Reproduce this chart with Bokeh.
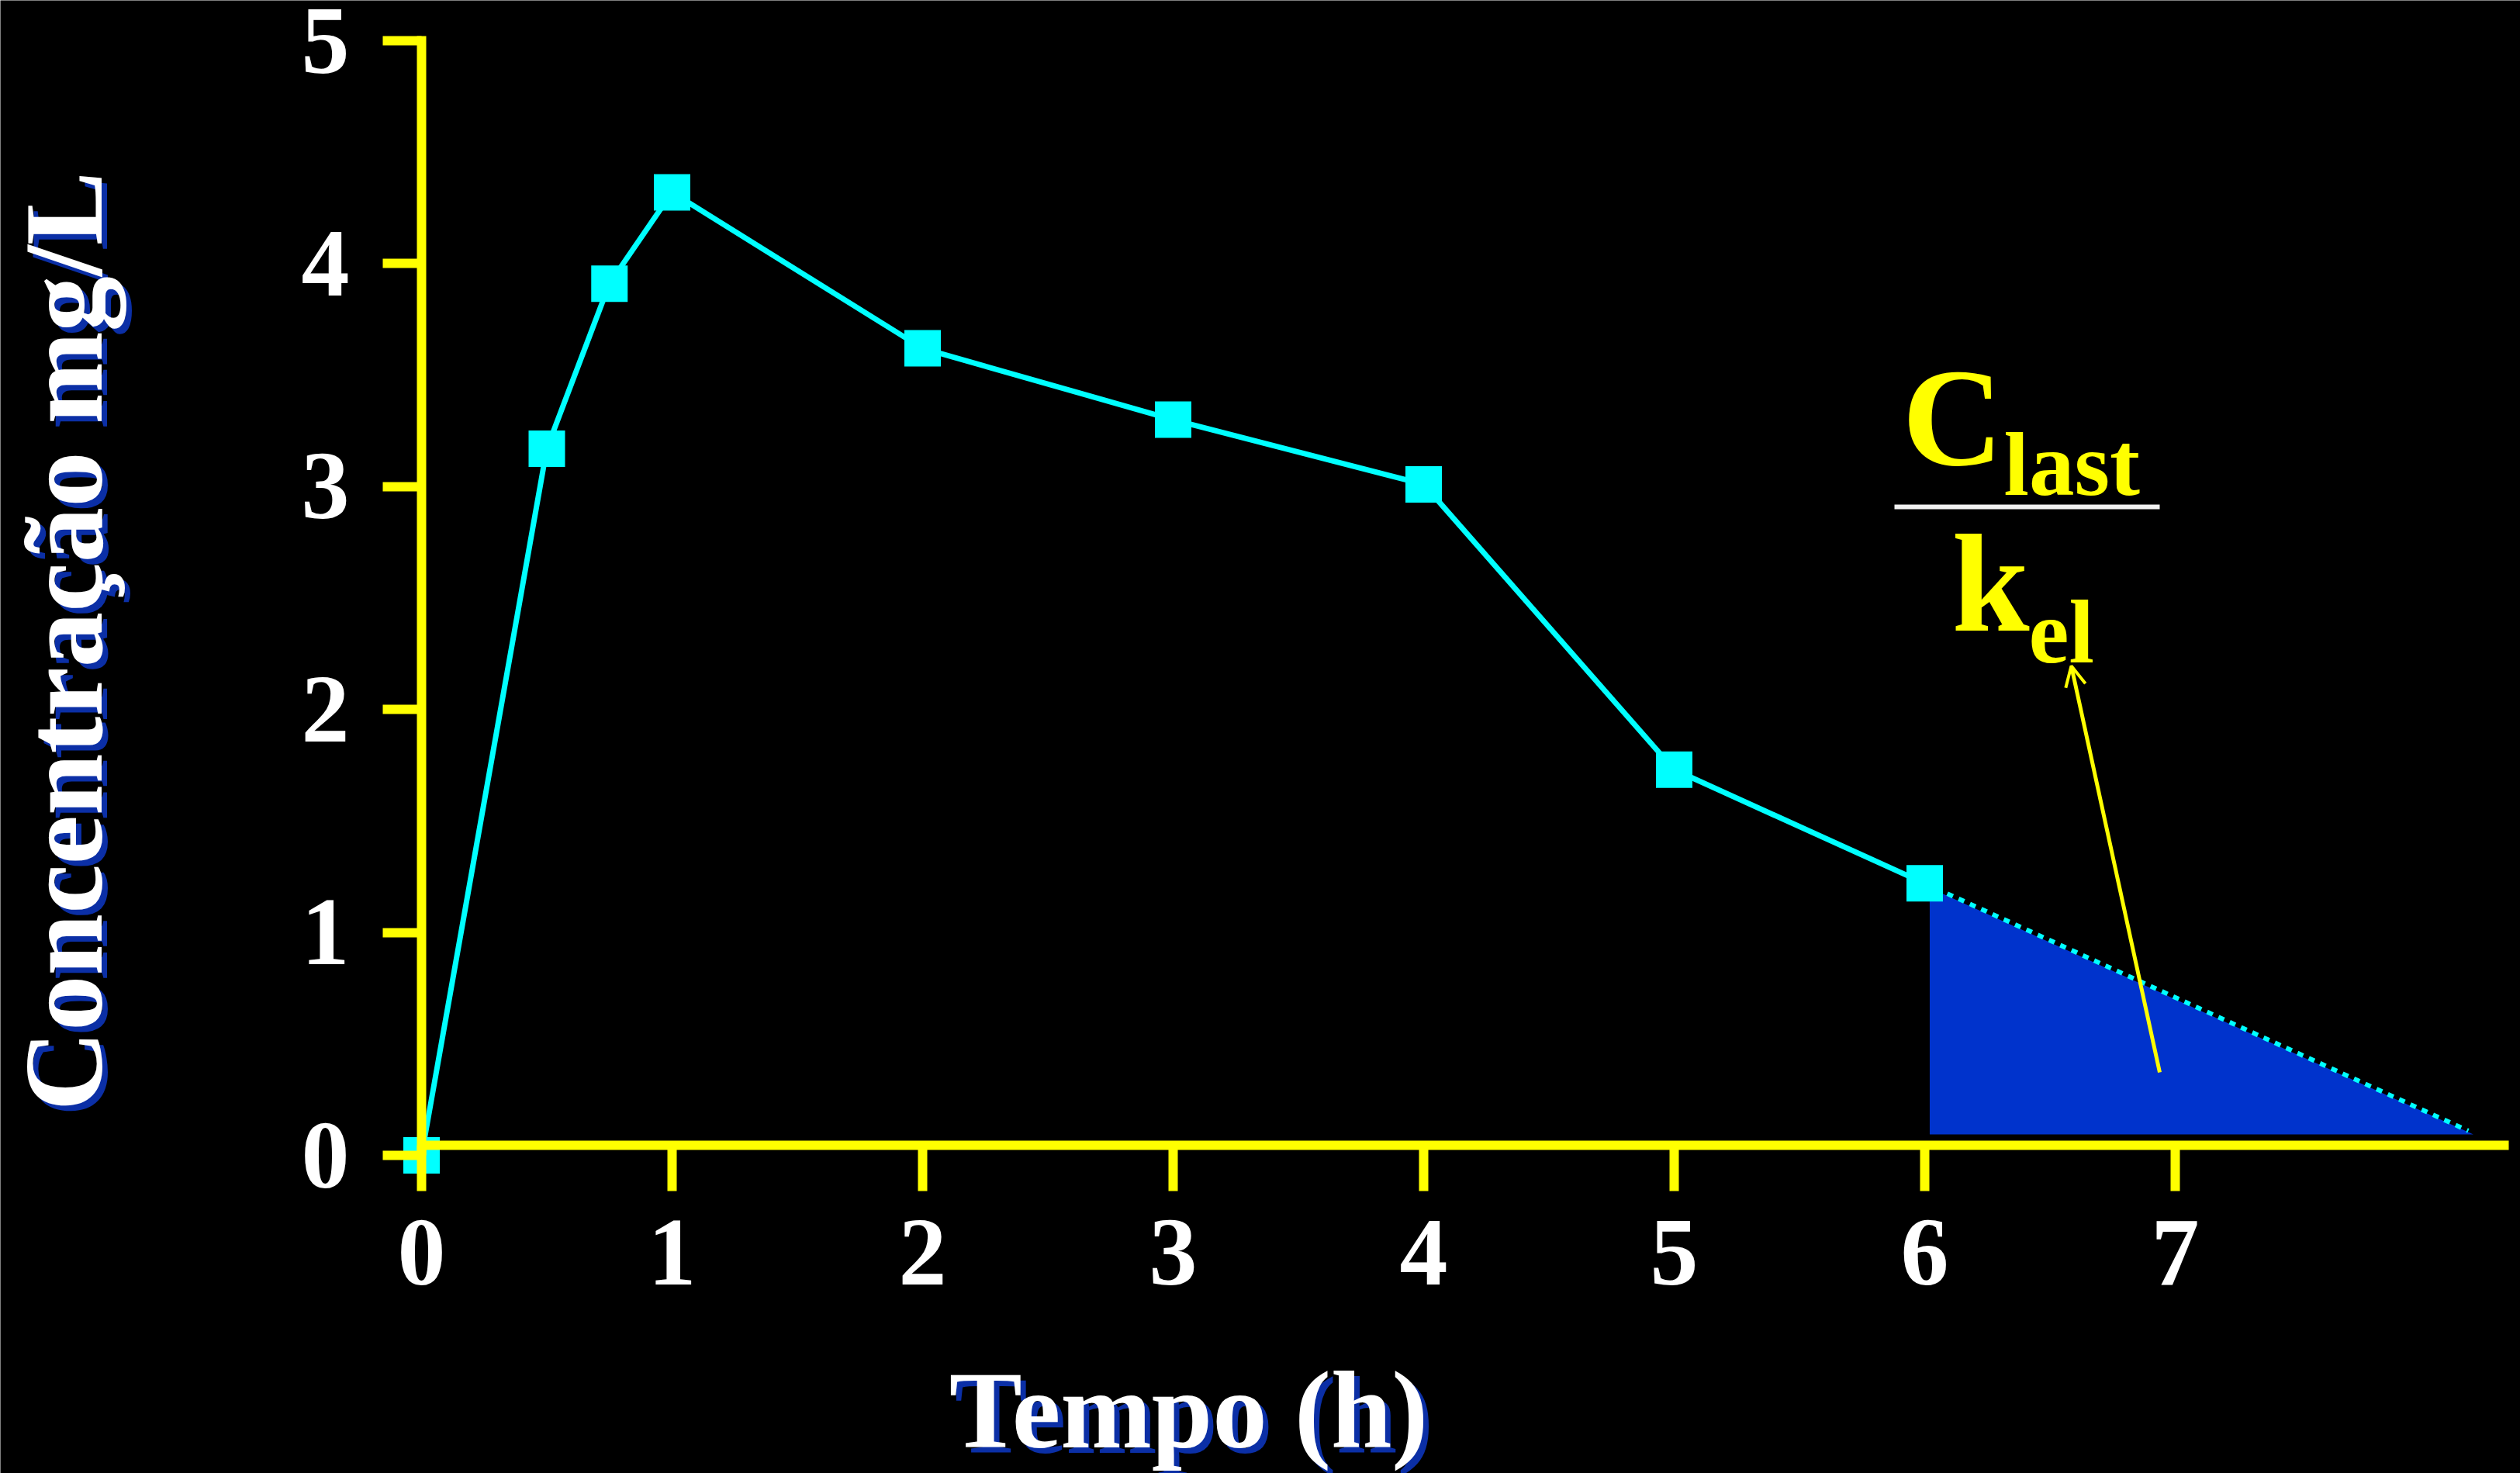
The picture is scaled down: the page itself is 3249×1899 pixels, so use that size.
import math
from bokeh.plotting import figure
from bokeh.models import Range1d, FixedTicker, Label, Arrow, OpenHead
from bokeh.embed import file_html
from bokeh.resources import INLINE

# ---------------- data ----------------
time_h = [0, 0.5, 0.75, 1, 2, 3, 4, 5, 6]
conc_mg_l = [0.0, 3.17, 3.91, 4.32, 3.62, 3.30, 3.01, 1.73, 1.22]
# extrapolated terminal phase (dotted) and the area beyond Clast
tail_time = [6, 8.17]
tail_conc = [1.22, 0.11]
area_time = [6.02, 6.02, 8.19]
area_conc = [1.20, 0.094, 0.094]
x_ticks = [0, 1, 2, 3, 4, 5, 6, 7]
y_ticks = [0, 1, 2, 3, 4, 5]
x_title = "Tempo (h)"
y_title = "Concentração mg/L"

# ---------------- layout ----------------
W, H = 3249, 1899
PX_X, PX_Y = 323.0, 287.4          # pixels per hour / per mg/L
X0, Y0 = 543.0, 1489.0             # canvas position of (0, 0)
BASE = 0.33                        # label anchor -> baseline shift (em)

def dx(px):
    return (px - X0) / PX_X

def dy(py):
    return (Y0 - py) / PX_Y

YELLOW = "#FFFF00"
CYAN = "#00FFFF"
FONT = "Liberation Serif"

p = figure(width=W, height=H,
           x_range=Range1d(dx(0), dx(W)),
           y_range=Range1d(dy(H), dy(0)),
           output_backend="svg", toolbar_location=None,
           min_border_left=0, min_border_right=0,
           min_border_top=0, min_border_bottom=0,
           background_fill_color="black", border_fill_color="black",
           outline_line_color=None)
p.grid.visible = False

for ax, ticks in ((p.xaxis[0], x_ticks), (p.yaxis[0], y_ticks)):
    ax.ticker = FixedTicker(ticks=ticks)
    ax.axis_line_color = YELLOW
    ax.axis_line_width = 12
    ax.major_tick_line_color = YELLOW
    ax.major_tick_line_width = 12
    ax.major_tick_in = 0
    ax.minor_tick_line_color = None
    ax.major_label_text_color = "white"
    ax.major_label_text_font = FONT
    ax.major_label_text_font_style = "bold"
    ax.major_label_text_font_size = "124px"

xa = p.xaxis[0]
xa.fixed_location = 0.045
xa.bounds = (0, 8.33)
xa.major_tick_out = 59
xa.major_label_standoff = 38

ya = p.yaxis[0]
ya.fixed_location = 0
ya.bounds = (0, 5.02)
ya.major_tick_out = 50
ya.major_label_standoff = 43

# ---------------- glyphs ----------------
p.patch(area_time, area_conc, fill_color="#0033CC", line_color=None)
p.line(time_h, conc_mg_l, line_color=CYAN, line_width=7)
p.line(tail_time, tail_conc, line_color=CYAN, line_width=6, line_dash="8 8")
p.scatter(time_h, conc_mg_l, marker="square", size=47,
          fill_color=CYAN, line_color=None)

# ---------------- titles with blue shadow ----------------
def shadow_text(px, py, text, size, rotated=False):
    shift = BASE * size
    if rotated:
        ax_, ay_ = px - shift, py
    else:
        ax_, ay_ = px, py - shift
    for color, xo, yo in (("#0b2fa6", 7, -7), ("white", 0, 0)):
        p.add_layout(Label(x=dx(ax_), y=dy(ay_), text=text,
                           x_offset=xo, y_offset=yo,
                           angle=math.pi / 2 if rotated else 0.0,
                           text_align="center",
                           text_baseline="alphabetic",
                           text_color=color, text_font=FONT,
                           text_font_style="bold",
                           text_font_size=f"{size}px"))

shadow_text(1532, 1864, x_title, 141)
shadow_text(130, 826, y_title, 143, rotated=True)

# ---------------- Clast / kel annotation ----------------
def ytext(px, py, text, size):
    p.add_layout(Label(x=dx(px), y=dy(py - BASE * size), text=text,
                       text_align="left", text_baseline="alphabetic",
                       text_color=YELLOW, text_font=FONT,
                       text_font_style="bold",
                       text_font_size=f"{size}px"))

ytext(2452, 597, "C", 180)
ytext(2583, 637, "last", 117)
ytext(2516, 811, "k", 180)
ytext(2615, 853, "el", 117)

frac_x = [dx(2442), dx(2784)]
frac_y = [dy(653), dy(653)]
p.line(frac_x, frac_y, line_color="#F2F2F2", line_width=6)

p.add_layout(Arrow(end=OpenHead(size=26, line_color=YELLOW, line_width=4),
                   x_start=dx(2784), y_start=dy(1382),
                   x_end=dx(2670), y_end=dy(858),
                   line_color=YELLOW, line_width=5))

open("out.html", "w").write(file_html(p, INLINE))
